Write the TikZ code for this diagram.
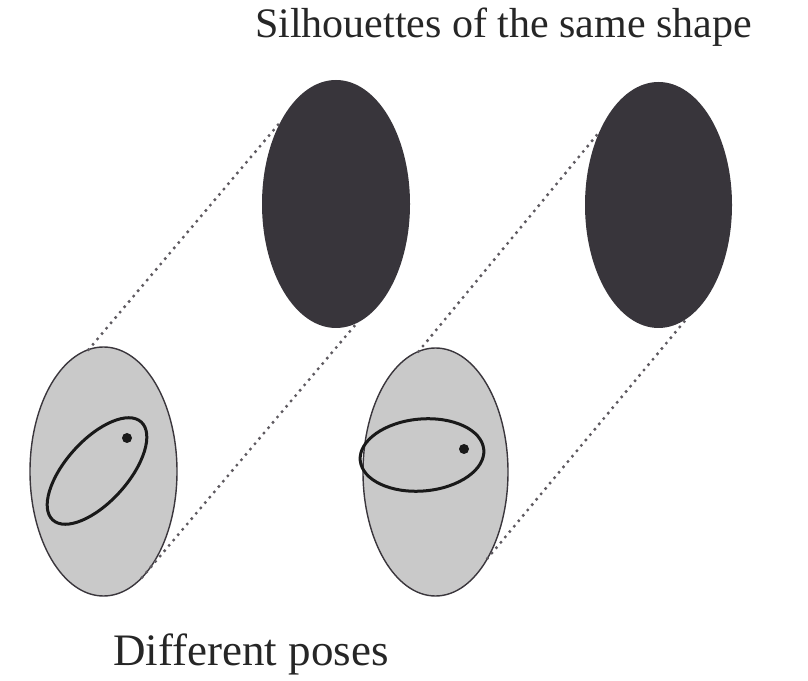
\documentclass[tikz,border=0pt]{standalone}
\usepackage{fontspec}
\setmainfont{Liberation Serif}
\usetikzlibrary{shapes.geometric}
\definecolor{lightfill}{HTML}{C9C9C9}
\definecolor{darkfill}{HTML}{38353B}
\definecolor{rimcol}{HTML}{3A363C}
\definecolor{dotcol}{HTML}{5E5A60}
\begin{document}
\begin{tikzpicture}[x=1pt,y=1pt,
  pose/.style={ellipse,inner sep=0pt,outer sep=0pt,fill=lightfill,draw=rimcol,line width=1.4pt},
  silh/.style={ellipse,inner sep=0pt,outer sep=0pt,fill=darkfill},
  proj/.style={dotcol,line width=3.4pt,line cap=round,dash pattern=on 0pt off 7pt},
  ring/.style={draw=black!90,line width=3pt},
  mark dot/.style={circle,fill=black!90,inner sep=0pt,minimum size=10pt},
  lbl/.style={anchor=base,inner sep=0pt,text=black!85}]
\useasboundingbox (0,0) rectangle (808,680);
% silhouettes
\node[silh,minimum width=148pt,minimum height=248pt] (D1) at (336,476) {};
\node[silh,minimum width=147pt,minimum height=246pt] (D2) at (658.5,475) {};
% poses
\node[pose,minimum width=147pt,minimum height=249pt] (L1) at (103.5,208.5) {};
\node[pose,minimum width=145pt,minimum height=248pt] (L2) at (435.5,208) {};
% projection lines
\draw[proj] (L1.97) -- (D1.124.6);
\draw[proj] (L1.-70) -- (D1.-80);
\draw[proj] (L2.98) -- (D2.129);
\draw[proj] (L2.-59) -- (D2.-76);
% inner rings
\node[ellipse,ring,inner sep=0pt,minimum width=132pt,minimum height=62pt,rotate=48] (R1) at (97,209) {};
\node[ellipse,ring,inner sep=0pt,minimum width=124pt,minimum height=72pt,rotate=5] (R2) at (422,225) {};
\node[mark dot] (P1) at (127,242) {};
\node[mark dot] (P2) at (464,231) {};
% labels
\node[lbl,font=\fontsize{42}{48}\selectfont] (T1) at (503.5,642) {Silhouettes of the same shape};
\node[lbl,font=\fontsize{45}{52}\selectfont] (T2) at (251,15) {Different poses};
\end{tikzpicture}
\end{document}
